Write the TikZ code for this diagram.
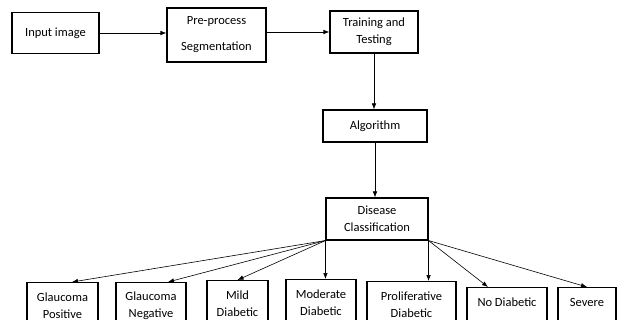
\documentclass[tikz,border=0pt]{standalone}
\usepackage{fontspec}
\setmainfont{Carlito}
\usetikzlibrary{arrows.meta,positioning,calc}

\begin{document}
\begin{tikzpicture}[x=1pt,y=-1pt,>={Latex[length=6pt,width=4.5pt]},
  blk/.style={draw,line width=1.1pt,align=center,inner sep=2pt,font=\fontsize{12.5}{17}\selectfont},
  leaf/.style={blk,anchor=north,minimum height=46pt},
  conn/.style={->,line width=0.6pt}]
  \useasboundingbox (0,0) rectangle (617,320);
  \clip (0,0) rectangle (617,320);
  % pipeline
  \node[blk,minimum width=87pt,minimum height=41pt] (inp) at (55.5,33) {Input image};
  \node[blk,minimum width=99pt,minimum height=54pt] (pre) at (216.5,35) {Pre-process\\[9pt]Segmentation};
  \node[blk,minimum width=88pt,minimum height=42pt] (trn) at (374,32) {Training and\\Testing};
  \node[blk,minimum width=104pt,minimum height=32pt] (alg) at (375,126) {Algorithm};
  \node[blk,minimum width=102pt,minimum height=42pt] (dis) at (377,219) {Disease\\Classification};
  \draw[conn] (inp.east) -- (inp.east -| pre.west);
  \draw[conn] (trn.west -| pre.east) -- (trn.west);
  \draw[conn] (trn.south) -- (trn.south |- alg.north);
  \draw[conn] (alg.south) -- (alg.south |- dis.north);
  % classes
  \foreach \nm/\cx/\tp/\bw/\txt in {gp/62.5/282/71/{Glaucoma\\Positive},
      gn/151/282/70/{Glaucoma\\Negative}, mild/237.5/280/61/{Mild\\Diabetic},
      mod/321/279/70/{Moderate\\Diabetic}, pro/411.5/281/89/{Proliferative\\Diabetic},
      nod/507/287/80/{No Diabetic\\\mbox{}}, sev/587/287/58/{Severe\\\mbox{}}}
    \node[leaf,minimum width=\bw pt] (\nm) at (\cx,\tp) {\txt};
  \draw[conn] (dis.south west) -- ([xshift=9.5pt]gp.north);
  \draw[conn] (dis.south west) -- ([xshift=17pt]gn.north);
  \draw[conn] (dis.south west) -- (mild.north);
  \draw[conn] (dis.south west) -- (dis.south west |- mod.north);
  \draw[conn] (dis.south east) -- (dis.south east |- pro.north);
  \draw[conn] (dis.south east) -- ([xshift=-19pt]nod.north);
  \draw[conn] (dis.south east) -- (sev.north);
\end{tikzpicture}
\end{document}
